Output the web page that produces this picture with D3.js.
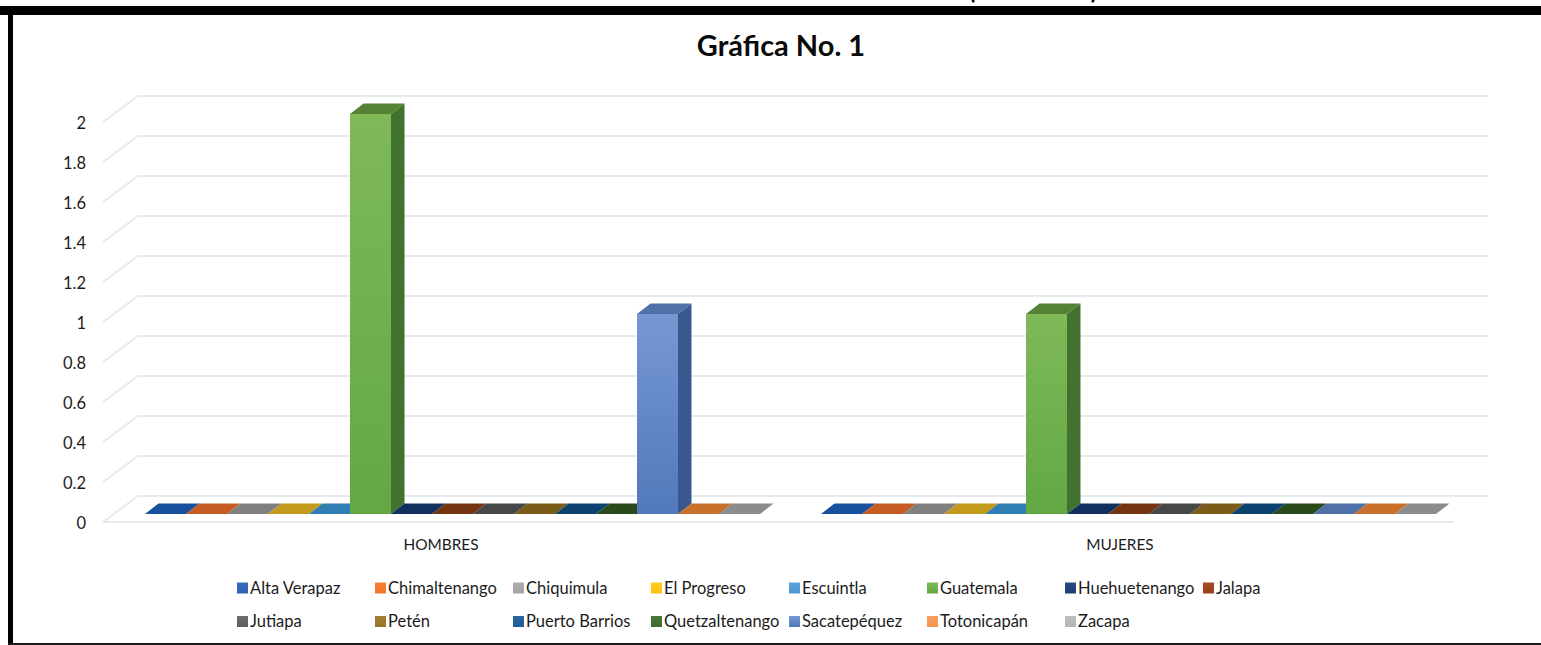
<!DOCTYPE html>
<html lang="es">
<head>
<meta charset="utf-8">
<title>Gráfica No. 1</title>
<script src="https://cdn.jsdelivr.net/npm/d3@7"></script>
<style>
html,body{margin:0;padding:0;background:#fff;overflow:hidden}
svg{display:block}
text{font-family:Lato,"Open Sans",sans-serif;fill:#1c1c1c}
</style>
</head>
<body>
<svg id="chart" width="1541" height="645"></svg>
<script>
const categories = ["HOMBRES", "MUJERES"];
const seriesNames = ["Alta Verapaz","Chimaltenango","Chiquimula","El Progreso","Escuintla","Guatemala","Huehuetenango","Jalapa","Jutiapa","Petén","Puerto Barrios","Quetzaltenango","Sacatepéquez","Totonicapán","Zacapa"];
const hombres = [0,0,0,0,0,2,0,0,0,0,0,0,1,0,0];
const mujeres = [0,0,0,0,0,1,0,0,0,0,0,0,0,0,0];
const yTicks = [0,0.2,0.4,0.6,0.8,1,1.2,1.4,1.6,1.8,2];
const seriesColors = ["#2f62b0","#f0752a","#a3a3a3","#ffc20e","#4f96d6","#62a844","#1f3d78","#9a3f1c","#5f5f5f","#97722a","#1f5b94","#3e6a2e","#5179bb","#f4954f","#b5b5b5"];
const lightColors = ["#3a6cb8","#f5812f","#adadad","#ffcb20","#5da2dc","#7fb958","#284a86","#a64d26","#6c6c6c","#a47f32","#27689f","#4a7838","#7797d3","#f7a060","#bfbfbf"];
const topColors = ["#17509c","#c65c24","#808080","#c49a1c","#2f7fb4","#568235","#12305f","#74340f","#474747","#7a5c18","#0c4270","#2a4a1c","#5070a8","#c8702c","#8c8c8c"];
const sideColors = ["#1d4a88","#b9551c","#787878","#b98e12","#2f74ad","#41722f","#152c58","#6c2c0e","#414141","#6b5210","#0e3f6e","#274a1a","#37598f","#b96a28","#858585"];

const svg = d3.select("#chart");
const defs = svg.append("defs");
seriesNames.forEach((n,i)=>{
  const g = defs.append("linearGradient").attr("id","grad"+i).attr("x1",0).attr("x2",0).attr("y1",0).attr("y2",1);
  g.append("stop").attr("offset","0%").attr("stop-color",lightColors[i]);
  g.append("stop").attr("offset","100%").attr("stop-color",seriesColors[i]);
});

const depthX = 35, backRise = 18, frontDrop = 8;   // walls of the 3D box
const barDX = 13.5, barDY = 10.5;                  // depth of each bar

const y = d3.scaleLinear().domain([0,2]).range([514,114]);
const x0 = d3.scaleBand().domain(categories).range([103,1455]);
const x1 = d3.scaleBand().domain(seriesNames).range([42,657]);

// gridlines
const grid = svg.append("g").attr("fill","none").attr("stroke","#e8ebee").attr("stroke-width",1.8);
yTicks.forEach(t=>{
  const back = y(t)-backRise, front = y(t)+frontDrop;
  grid.append("path").attr("d",d3.line()([[x0.range()[0],front],[x0.range()[0]+depthX,back],[x0.range()[1]+depthX-2,back]]));
});
grid.append("line").attr("x1",103).attr("x2",1454).attr("y1",y(0)+frontDrop).attr("y2",y(0)+frontDrop);

// y axis labels
const axisY = d3.axisLeft(y.copy().range([514+frontDrop,114+frontDrop])).tickValues(yTicks).tickSize(0).tickPadding(0).tickFormat(d=>String(d));
const ay = svg.append("g").attr("transform","translate(86,1)").call(axisY);
ay.select(".domain").remove();
ay.selectAll("text").style("font-size","16.5px").style("font-family","Lato,sans-serif").style("fill","#1c1c1c");

// bars
const seriesByCategory = {HOMBRES:hombres, MUJERES:mujeres};
const poly = pts=>pts.map(p=>p.join(",")).join(" ");
categories.forEach(c=>{
  const g = svg.append("g").attr("transform",`translate(${x0(c)},0)`);
  const vals = seriesByCategory[c];
  seriesNames.forEach((n,i)=>{
    const l = x1(n), r = l + x1.bandwidth(), t = y(vals[i]), b = y(0);
    if (vals[i] > 0) {
      g.append("rect").attr("x",l).attr("y",t).attr("width",r-l).attr("height",b-t).attr("fill",`url(#grad${i})`);
      g.append("polygon").attr("points",poly([[r,t],[r+barDX,t-barDY],[r+barDX,b-barDY],[r,b]])).attr("fill",sideColors[i]);
    }
    g.append("polygon").attr("points",poly([[l,t],[l+barDX,t-barDY],[r+barDX,t-barDY],[r,t]])).attr("fill",topColors[i]);
  });
});

// category labels
categories.forEach(c=>{
  svg.append("text").attr("x",x0(c)+x0.bandwidth()/2+(c==="MUJERES"?3:0)).attr("y",550).attr("text-anchor","middle").style("font-size","15.4px").text(c);
});

// legend
const legendX = d3.scaleLinear().domain([0,7]).range([237,1203]);
const legendRows = 8;
seriesNames.forEach((n,i)=>{
  const col = i % legendRows, row = Math.floor(i/legendRows);
  const lx = legendX(col), ly = 588 + row*33.5;
  svg.append("rect").attr("x",lx).attr("y",ly-5.5).attr("width",11).attr("height",11).attr("fill",`url(#grad${i})`);
  svg.append("text").attr("x",lx+13).attr("y",ly+5.5).style("font-size","16.5px").text(n);
});

// title
svg.append("text").attr("x",781).attr("y",56).attr("text-anchor","middle").style("font-size","29px").style("font-weight","700").style("fill","#0a0a0a").text("Gráfica No. 1");

// clipped heading above the frame: only the brackets can be read
svg.append("text").attr("x",972).attr("y",-1).attr("text-anchor","middle").style("font-size","24px").style("font-weight","700").style("fill","#000").text("(");
svg.append("text").attr("x",1094).attr("y",-1).attr("text-anchor","middle").style("font-size","24px").style("font-weight","700").style("fill","#000").text(")");

// frame
svg.append("rect").attr("x",0).attr("y",6).attr("width",1541).attr("height",9).attr("fill","#000");
svg.append("rect").attr("x",8).attr("y",6).attr("width",5).attr("height",639).attr("fill","#000");
svg.append("rect").attr("x",8).attr("y",643).attr("width",1533).attr("height",2).attr("fill","#1a1a1a");
</script>
</body>
</html>
